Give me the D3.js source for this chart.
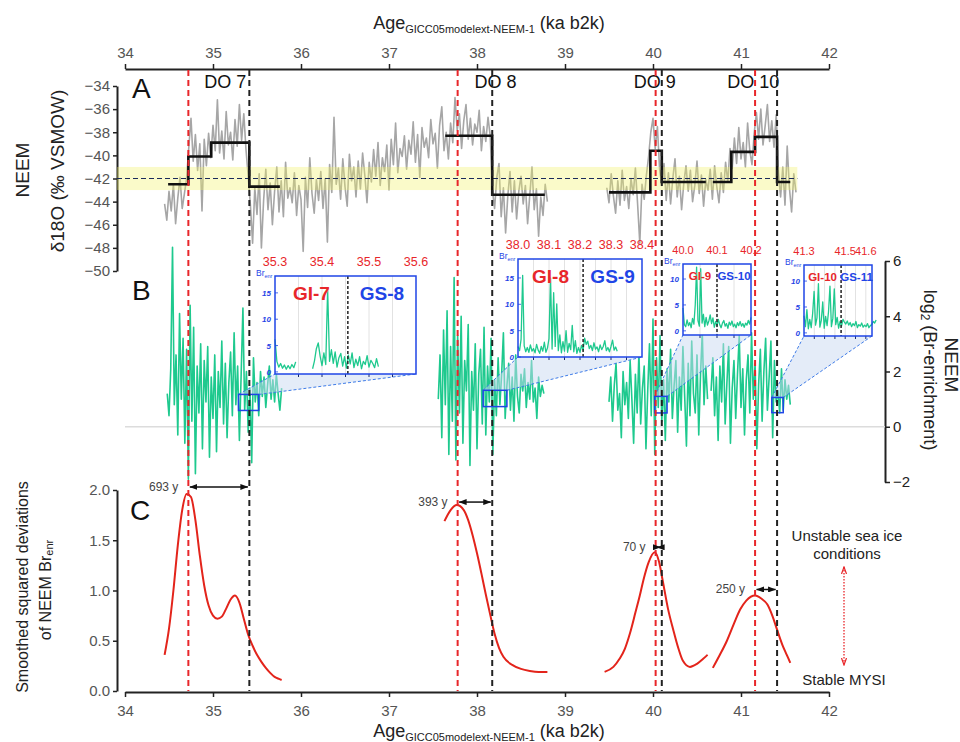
<!DOCTYPE html>
<html>
<head>
<meta charset="utf-8">
<script src="https://cdn.jsdelivr.net/npm/d3@7"></script>
<style>
body { margin: 0; background: #fff; }
svg text { font-family: "Liberation Sans", "Helvetica Neue", Arial, sans-serif; }
</style>
</head>
<body>
<div id="chart"></div>
<script>

// ---- data ----
var ageTicks = [34, 35, 36, 37, 38, 39, 40, 41, 42];
var d18oTicks = [-34, -36, -38, -40, -42, -44, -46, -48, -50];
var brTicks = [-2, 0, 2, 4, 6];
var sdTicks = [0, 0.5, 1, 1.5, 2];

var doNames = ["DO 7", "DO 8", "DO 9", "DO 10"];
var doLabelAge = [35.14, 38.21, 40.02, 41.14];
var giOnset = [34.72, 37.78, 40.03, 41.16];      // red dashed
var gsOnset = [35.413, 38.173, 40.10, 41.41];    // black dashed
var lagNames = ["693 y", "393 y", "70 y", "250 y"];
var lagLevel = [2.03, 1.88, 1.43, 1.01];

// stadial reference band
var bandRange = [-43, -41];
var bandMid = -42;
var bandEnd = 41.64;

// step means of d18O
var meanBreaks = [[34.49, 34.72, 34.98, 35.413, 35.76], [37.64, 38.173, 38.77], [39.5, 39.97, 40.10, 40.6], [40.68, 40.89, 41.16, 41.41, 41.56]];
var meanLevels = [[-42.5, -40.1, -38.9, -42.7], [-38.3, -43.4], [-43.2, -39.6, -42.3], [-42.3, -39.7, -38.4, -42.3]];

// d18O record
var d18oStep = 0.025;
var d18oStart1 = 34.45;
var d18oSeg1 = [
 -44.2,-45.6,-43.1,-44.8,-42.5,-45.9,-43.7,-41.9,-44.6,-43.3,
 -42.0,-39.3,-36.8,-40.5,-38.2,-41.3,-39.0,-44.8,-38.6,-40.9,
 -38.1,-40.2,-37.4,-39.6,-35.2,-39.8,-37.9,-40.3,-36.2,-39.1,
 -38.0,-40.4,-36.9,-39.2,-35.6,-38.7,-36.4,-39.5,-41.8,-44.3,
 -47.6,-42.8,-45.1,-41.6,-48.0,-43.9,-41.2,-44.7,-42.4,-46.0,
 -43.1,-41.0,-44.9,-42.2,-45.3,-40.6,-43.7,-42.8,-44.1,-41.5,
 -45.2,-42.6,-43.8,-48.3,-41.9,-44.5,-40.2,-43.3,-45.0,-42.1,
 -43.9,-41.4,-44.6,-42.0,-47.5,-40.8,-43.2,-36.7,-42.5,-41.1,
 -43.8,-40.3,-42.7,-44.4,-39.9,-42.2,-41.0,-43.6,-40.5,-42.9,
 -39.8,-41.7,-44.1,-40.6,-42.3,-39.5,-41.8,-38.9,-42.6,-40.2,
 -41.4,-39.1,-43.0,-38.6,-40.8,-37.2,-41.5,-39.4,-40.1,-38.3,
 -41.2,-38.7,-39.9,-37.1,-40.6,-38.2,-41.9,-37.6,-39.3,-38.5,
 -40.2,-36.9,-39.0,-38.1,-41.1,-37.4,-35.8,-39.6,-38.0,-40.3,
 -37.2,-38.9,-35.0,-37.8,-36.4,-39.4,-37.0,-35.6,-38.6,-36.8,
 -39.1,-37.3,-38.0,-36.1,-39.6,-37.5,-38.8,-36.7,-38.3,-43.0,
 -44.6,-41.9,-40.7,-45.3,-42.8,-46.7,-43.5,-41.4,-44.9,-42.2,
 -45.5,-43.1,-41.8,-44.2,-42.6,-45.9,-43.4,-41.0,-44.7,-42.9,
 -47.0,-43.6,-45.2,-42.5,-44.0];
var d18oStart2 = 39.475;
var d18oSeg2 = [
 -42.8,-44.1,-41.6,-43.5,-45.0,-42.2,-44.3,-41.3,-43.9,-42.7,
 -44.6,-42.0,-43.4,-41.1,-44.2,-47.6,-42.5,-43.8,-41.7,-40.1,
 -38.0,-36.8,-39.4,-37.5,-41.2,-42.6,-40.7,-43.9,-41.5,-44.2,
 -42.0,-40.3,-43.6,-41.8,-44.7,-42.4,-40.9,-43.1,-41.3,-44.0,
 -42.6,-40.5,-43.3,-41.7,-44.4,-42.1,-43.0,-41.2,-43.8,-40.9,
 -42.7,-44.1,-41.5,-43.2,-40.6,-42.3,-39.4,-41.1,-38.5,-40.7,
 -37.6,-40.3,-38.9,-41.0,-37.2,-39.6,-40.8,-38.1,-36.3,-38.6,
 -36.0,-39.1,-37.4,-35.6,-38.8,-37.0,-39.3,-36.5,-41.4,-43.6,
 -41.0,-44.3,-39.2,-42.8,-44.9,-41.6,-43.2];

// log2 Br enrichment
var brStep = 0.02;
var brStart = [34.48, 37.56, 39.50, 40.66];
var brSeg1 = [
 1.2,0.4,2.1,6.5,0.8,2.6,-0.3,4.1,1.0,3.2,
 -0.6,2.8,-1.9,4.4,0.2,3.6,-1.7,2.2,0.5,3.0,
 -0.8,2.4,0.9,2.9,-1.1,1.8,0.3,2.6,-0.9,2.0,
 0.7,3.1,0.1,2.3,-0.4,1.6,2.7,0.4,3.4,0.8,
 2.2,-0.5,1.9,4.3,0.6,2.0,-0.2,1.4,-1.3,2.5,
 0.9,1.6,0.4,2.0,1.1,1.8,0.7,1.5,2.2,1.0,
 1.7,0.9,1.9,1.2,0.6,1.4];
var brSeg2 = [
 1.0,2.6,-0.4,3.5,0.8,4.2,-1.0,2.9,0.2,5.4,
 -1.2,3.3,0.5,4.0,-0.6,2.4,1.3,3.7,-1.4,2.0,
 0.6,3.0,-0.8,1.9,2.8,0.1,3.6,-0.3,2.2,0.9,
 3.2,-1.0,1.7,0.4,2.5,0.8,1.9,3.4,0.3,1.5,
 2.3,0.6,1.8,0.2,2.6,1.1,0.5,1.9,1.3,2.1,
 0.7,1.6,1.0,2.4,0.9,1.4,0.3,1.8,1.1,1.5,
 1.2];
var brSeg3 = [
 0.9,1.8,0.2,1.5,2.3,0.6,1.2,-0.4,2.0,0.8,
 1.6,0.3,2.4,1.0,-0.6,1.9,0.5,2.7,0.1,1.4,
 2.2,-0.8,1.3,3.0,0.4,3.9,-1.0,2.5,0.7,3.3,
 0.2,1.7,-0.5,2.1,0.9,2.8,0.3,1.5,2.4,-0.2,
 1.8,0.6,2.9,1.1,-0.7,2.3,0.4,3.1,1.2,0.5,
 2.6,-0.3,1.9,3.4,0.8,2.2,1.0];
var brSeg4 = [
 1.3,2.5,0.4,1.8,-0.5,2.2,0.9,3.0,0.1,1.6,
 2.9,-0.6,1.4,2.4,0.3,1.9,3.3,0.7,2.1,-0.3,
 1.7,2.6,0.5,3.4,1.0,2.3,-0.8,1.5,2.8,0.2,
 2.0,3.2,0.6,1.8,3.1,-0.4,2.4,0.9,1.3,0.5,
 2.1,0.6,1.7,1.0,1.5,0.8];

// smoothed squared deviations (panel C)
var sdAge7 = [34.45,34.5,34.55,34.6,34.65,34.7,34.75,34.8,34.85,34.9,34.95,35.0,35.05,35.1,35.15,35.2,35.25,35.3,35.35,35.4,35.45,35.5,35.55,35.6,35.65,35.7,35.75,35.78];
var sdVal7 = [0.36,0.62,1.0,1.45,1.80,1.96,1.93,1.70,1.35,1.05,0.85,0.75,0.72,0.74,0.82,0.91,0.95,0.88,0.72,0.56,0.45,0.36,0.29,0.23,0.18,0.14,0.12,0.11];
var sdAge8 = [37.63,37.7,37.77,37.85,37.9,37.95,38.0,38.05,38.1,38.15,38.2,38.25,38.3,38.4,38.5,38.6,38.7,38.8];
var sdVal8 = [1.69,1.80,1.85,1.80,1.70,1.55,1.37,1.17,0.96,0.76,0.57,0.43,0.34,0.26,0.22,0.20,0.19,0.19];
var sdAge9 = [39.45,39.55,39.62,39.68,39.74,39.8,39.85,39.89,39.95,40.02,40.07,40.11,40.17,40.23,40.29,40.34,40.42,40.5,40.57,40.62];
var sdVal9 = [0.19,0.24,0.32,0.42,0.58,0.78,0.95,1.10,1.28,1.38,1.28,1.10,0.82,0.61,0.42,0.30,0.24,0.27,0.32,0.36];
var sdAge10 = [40.68,40.76,40.84,40.92,40.99,41.06,41.16,41.23,41.3,41.36,41.41,41.47,41.52,41.56];
var sdVal10 = [0.23,0.36,0.50,0.67,0.81,0.90,0.95,0.92,0.86,0.74,0.61,0.46,0.36,0.28];

// insets: raw Br enrichment around the transitions
var insetStart = [35.30, 38.00, 40.00, 41.30];
var insetStep = [0.004, 0.005, 0.004, 0.007];
var inset1 = [6.2,2.0,0.9,1.6,0.7,1.3,0.5,1.2,0.6,1.4,0.8,1.9,
 null,null,null,null,null,null,null,null,
 0.6,2.1,4.4,5.5,3.0,1.2,3.6,1.4,15.8,2.0,
 4.2,1.6,3.8,0.9,2.7,3.5,1.1,2.9,0.7,3.2,
 1.5,3.6,0.8,2.4,1.2,2.9,0.6,2.0,1.4,3.1,
 0.9,2.2,1.6,0.8,2.5,1.0];
var inset2 = [
 2.0,1.2,3.4,15.5,2.1,1.0,1.8,0.9,2.3,1.1,
 1.6,0.8,2.4,1.3,0.7,2.0,1.1,2.8,0.9,1.7,
 3.5,15.0,1.5,12.2,2.0,10.1,1.2,4.2,0.8,2.9,
 1.1,5.0,0.9,2.6,1.4,6.0,1.0,3.1,0.7,1.8,
 0.9,2.2,1.3,3.6,2.4,3.0,1.6,2.2,1.2,2.7,
 1.5,1.9,1.0,2.3,1.4,2.0,3.1,1.2,1.8,1.0,
 2.0,3.2,1.3,1.9,1.1];
var inset3 = [
 4.4,1.2,0.8,2.1,1.0,1.6,0.6,2.4,1.3,5.0,
 12.3,2.0,0.9,12.0,1.5,3.2,0.8,2.6,1.1,1.9,
 3.1,1.4,2.5,0.7,1.8,1.0,2.2,1.2,0.6,1.5,
 2.0,0.9,1.4,0.5,1.7,1.1,1.9,0.8,1.3,0.6,
 1.6,1.0,1.8,0.9,1.4,0.7,1.5,1.1,2.0,1.3,
 2.6];
var inset4 = [
 3.3,1.2,4.5,0.8,2.6,1.0,3.8,8.0,1.5,2.9,
 9.5,1.1,2.4,6.0,0.9,3.2,1.4,4.1,9.0,1.2,
 2.8,8.5,1.6,3.0,0.9,2.2,1.3,2.6,2.1,1.7,
 2.3,1.5,2.0,1.2,1.8,1.4,2.2,1.0,1.6,1.3,
 1.9,1.1,1.5,1.2,1.8,1.0,1.4,1.6,2.2,1.9,2.5];
var insetValues = [inset1, inset2, inset3, inset4];
var insetAgeDomain = [[35.3, 35.6], [38.0, 38.4], [40.0, 40.2], [41.3, 41.63]];
var insetBrDomain = [[-0.4, 18.2], [0, 18.6], [-0.8, 12.9], [-0.6, 13.1]];
var insetTopTicks = [[35.3, 35.4, 35.5, 35.6], [38.0, 38.1, 38.2, 38.3, 38.4], [40.0, 40.1, 40.2], [41.3, 41.5, 41.6]];
var insetBrTicks = [[0, 5, 10, 15], [0, 5, 10, 15], [0, 5, 10], [0, 5, 10]];
var insetSplit = [35.455, 38.21, 40.10, 41.48];
var insetGI = ["GI-7", "GI-8", "GI-9", "GI-10"];
var insetGS = ["GS-8", "GS-9", "GS-10", "GS-11"];
// zoom windows drawn on the main Br record
var zoomAge = [[35.29, 35.52], [38.07, 38.34], [40.02, 40.16], [41.35, 41.48]];
var zoomBr = [[0.59, 1.17], [0.73, 1.32], [0.5, 1.1], [0.51, 1.06]];

// ---- layout ----
var insetBox = [
    { left: 275, top: 276, width: 141, height: 98, big: true },
    { left: 518, top: 259, width: 124, height: 98, big: true },
    { left: 683, top: 264, width: 68, height: 71, big: false },
    { left: 804, top: 265, width: 68, height: 71, big: false }
];

var RED = "#e8262a", BLUE = "#1f45e6", GREEN = "#1ec98e", GREY_TXT = "#555";

var x = d3.scaleLinear().domain([34, 42]).range([125, 829]);
var yA = d3.scaleLinear().domain([-50, -34]).range([271, 86]);
var yB = d3.scaleLinear().domain([-2, 6]).range([482, 261]);
var yC = d3.scaleLinear().domain([0, 2]).range([691, 490]);

var svg = d3.select("#chart").append("svg").attr("width", 960).attr("height", 742);

var defs = svg.append("defs");
defs.append("marker").attr("id", "headBlack")
    .attr("viewBox", "0 0 8 6").attr("refX", 7.5).attr("refY", 3)
    .attr("markerWidth", 8).attr("markerHeight", 6).attr("markerUnits", "userSpaceOnUse")
    .attr("orient", "auto-start-reverse")
    .append("path").attr("d", "M0,0 L8,3 L0,6 Z").attr("fill", "#111");
defs.append("marker").attr("id", "headRed")
    .attr("viewBox", "0 0 8 6").attr("refX", 7).attr("refY", 3)
    .attr("markerWidth", 8).attr("markerHeight", 6).attr("markerUnits", "userSpaceOnUse")
    .attr("orient", "auto-start-reverse")
    .append("path").attr("d", "M0,0.5 L7,3 L0,5.5").attr("fill", "none").attr("stroke", RED).attr("stroke-width", 1.2);

function seriesPoints(start, step, values) {
    return values.map(function (v, i) { return [start + i * step, v]; });
}

function styleAxis(g, color, size) {
    g.attr("font-family", null).attr("font-size", null);
    g.select(".domain").attr("stroke", "#222").attr("stroke-width", 2);
    g.selectAll(".tick line").attr("stroke", "#222").attr("stroke-width", 1.5);
    g.selectAll(".tick text").attr("fill", color).style("font-size", size + "px");
}

// ---- age axes ----
var topAxis = svg.append("g").attr("transform", "translate(0,69)")
    .call(d3.axisTop(x).tickValues(ageTicks).tickFormat(d3.format("d")).tickSize(5).tickSizeOuter(0).tickPadding(6));
styleAxis(topAxis, GREY_TXT, 15);
var bottomAxis = svg.append("g").attr("transform", "translate(0,692)")
    .call(d3.axisBottom(x).tickValues(ageTicks).tickFormat(d3.format("d")).tickSize(5).tickSizeOuter(0).tickPadding(8));
styleAxis(bottomAxis, GREY_TXT, 15);

function ageTitle(y) {
    var t = svg.append("text").attr("x", 489).attr("y", y).attr("text-anchor", "middle")
        .style("font-size", "18px").attr("fill", "#222");
    t.append("tspan").text("Age");
    t.append("tspan").attr("dy", 4).style("font-size", "11px").text("GICC05modelext-NEEM-1");
    t.append("tspan").attr("dy", -4).text(" (ka b2k)");
}
ageTitle(29);
ageTitle(737);

// ---- panel A ----
var axisA = svg.append("g").attr("transform", "translate(117,0)")
    .call(d3.axisLeft(yA).tickValues(d18oTicks).tickSize(4).tickSizeOuter(0).tickPadding(3));
styleAxis(axisA, GREY_TXT, 15);

svg.append("text").attr("transform", "translate(22,170) rotate(-90)").attr("text-anchor", "middle")
    .attr("dominant-baseline", "central").style("font-size", "19px").attr("fill", "#222").text("NEEM");
svg.append("text").attr("transform", "translate(57,171) rotate(-90)").attr("text-anchor", "middle")
    .attr("dominant-baseline", "central").style("font-size", "19px").attr("fill", "#222").text("δ18O (‰ VSMOW)");

var lineA = d3.line().x(function (d) { return x(d[0]); }).y(function (d) { return yA(d[1]); });
[seriesPoints(d18oStart1, d18oStep, d18oSeg1), seriesPoints(d18oStart2, d18oStep, d18oSeg2)].forEach(function (pts) {
    svg.append("path").attr("d", lineA(pts)).attr("fill", "none")
        .attr("stroke", "#a6a6a6").attr("stroke-width", 1.6).attr("stroke-linejoin", "round");
});

// stadial band and its mean
svg.append("rect").attr("x", 117).attr("width", x(bandEnd) - 117)
    .attr("y", yA(bandRange[1])).attr("height", yA(bandRange[0]) - yA(bandRange[1]))
    .attr("fill", "rgb(240,240,100)").attr("fill-opacity", 0.35);
svg.append("line").attr("x1", 117).attr("x2", x(bandEnd)).attr("y1", yA(bandMid)).attr("y2", yA(bandMid))
    .attr("stroke", "#1b2a5a").attr("stroke-width", 1.2).attr("stroke-dasharray", "5,3");

// step means
var stepLine = d3.line().curve(d3.curveStepAfter)
    .x(function (d) { return x(d[0]); }).y(function (d) { return yA(d[1]); });
meanBreaks.forEach(function (br, k) {
    var pts = meanLevels[k].map(function (v, i) { return [br[i], v]; });
    pts.push([br[br.length - 1], meanLevels[k][meanLevels[k].length - 1]]);
    svg.append("path").attr("d", stepLine(pts)).attr("fill", "none")
        .attr("stroke", "#111").attr("stroke-width", 2.6);
});

svg.append("text").attr("x", 132).attr("y", 98).style("font-size", "28px").attr("fill", "#111").text("A");
doNames.forEach(function (n, i) {
    svg.append("text").attr("x", x(doLabelAge[i])).attr("y", 88).attr("text-anchor", "middle")
        .style("font-size", "18px").attr("fill", "#111").text(n);
});

// ---- panel B ----
var axisB = svg.append("g").attr("transform", "translate(885,0)")
    .call(d3.axisRight(yB).tickValues(brTicks).tickSize(5).tickSizeOuter(0).tickPadding(3));
styleAxis(axisB, "#222", 15);

svg.append("text").attr("transform", "translate(951,365) rotate(90)").attr("text-anchor", "middle")
    .attr("dominant-baseline", "central").style("font-size", "19px").attr("fill", "#222").text("NEEM");
var logT = svg.append("text").attr("transform", "translate(930,370) rotate(90)").attr("text-anchor", "middle")
    .attr("dominant-baseline", "central").style("font-size", "18px").attr("fill", "#222");
logT.append("tspan").text("log");
logT.append("tspan").attr("dy", 5).style("font-size", "12px").text("2");
logT.append("tspan").attr("dy", -5).text(" (Br-enrichment)");

svg.append("line").attr("x1", x(34)).attr("x2", 885).attr("y1", yB(0)).attr("y2", yB(0))
    .attr("stroke", "#dcdcdc").attr("stroke-width", 1.5);

var lineB = d3.line().x(function (d) { return x(d[0]); }).y(function (d) { return yB(d[1]); });
[brSeg1, brSeg2, brSeg3, brSeg4].forEach(function (seg, k) {
    svg.append("path").attr("d", lineB(seriesPoints(brStart[k], brStep, seg))).attr("fill", "none")
        .attr("stroke", GREEN).attr("stroke-width", 1.6).attr("stroke-linejoin", "round");
});

svg.append("text").attr("x", 132).attr("y", 300).style("font-size", "28px").attr("fill", "#111").text("B");

// insets with their connectors
insetBox.forEach(function (box, k) {
    var bx0 = x(zoomAge[k][0]), bx1 = x(zoomAge[k][1]);
    var by0 = yB(zoomBr[k][1]), by1 = yB(zoomBr[k][0]);
    var bottom = box.top + box.height, right = box.left + box.width;

    svg.append("polygon")
        .attr("points", [[bx0, by0], [box.left, bottom], [right, bottom], [bx1, by0]].join(" "))
        .attr("fill", "#c9d9f2").attr("fill-opacity", 0.5);
    svg.append("line").attr("x1", bx0).attr("y1", by0).attr("x2", box.left).attr("y2", bottom)
        .attr("stroke", "#3f7ce8").attr("stroke-width", 1).attr("stroke-dasharray", "3,2");
    svg.append("line").attr("x1", bx1).attr("y1", by0).attr("x2", right).attr("y2", bottom)
        .attr("stroke", "#3f7ce8").attr("stroke-width", 1).attr("stroke-dasharray", "3,2");
    svg.append("rect").attr("x", bx0).attr("y", by0).attr("width", bx1 - bx0).attr("height", by1 - by0)
        .attr("fill", "none").attr("stroke", BLUE).attr("stroke-width", 1.5);

    var ix = d3.scaleLinear().domain(insetAgeDomain[k]).range([box.left, right]);
    var iy = d3.scaleLinear().domain(insetBrDomain[k]).range([bottom, box.top]);
    var g = svg.append("g");

    g.append("rect").attr("x", box.left).attr("y", box.top).attr("width", box.width).attr("height", box.height)
        .attr("fill", "#fff");

    // light grid every 0.05 ka
    var grid = d3.range(Math.ceil(insetAgeDomain[k][0] * 20 + 1e-6), Math.floor(insetAgeDomain[k][1] * 20 - 1e-6) + 1)
        .map(function (v) { return v / 20; })
        .filter(function (v) { return v > insetAgeDomain[k][0] + 1e-6 && v < insetAgeDomain[k][1] - 1e-6; });
    grid.forEach(function (v) {
        g.append("line").attr("x1", ix(v)).attr("x2", ix(v)).attr("y1", box.top).attr("y2", bottom)
            .attr("stroke", "#e2e2e2").attr("stroke-width", 1);
        g.append("line").attr("x1", ix(v)).attr("x2", ix(v)).attr("y1", bottom).attr("y2", bottom + 3)
            .attr("stroke", "#1a2a6a").attr("stroke-width", 1);
    });

    var lineI = d3.line().defined(function (d) { return d[1] !== null; })
        .x(function (d) { return ix(d[0]); }).y(function (d) { return iy(d[1]); });
    g.append("path").attr("d", lineI(seriesPoints(insetStart[k], insetStep[k], insetValues[k])))
        .attr("fill", "none").attr("stroke", GREEN).attr("stroke-width", 1.3).attr("stroke-linejoin", "round");

    g.append("line").attr("x1", ix(insetSplit[k])).attr("x2", ix(insetSplit[k]))
        .attr("y1", box.top).attr("y2", bottom)
        .attr("stroke", "#222").attr("stroke-width", 1.5).attr("stroke-dasharray", "3,2");

    g.append("rect").attr("x", box.left).attr("y", box.top).attr("width", box.width).attr("height", box.height)
        .attr("fill", "none").attr("stroke", BLUE).attr("stroke-width", 1.5);

    // GI / GS names
    var fs = box.big ? 19 : 11.5;
    var base = box.top + (box.big ? 24 : 16);
    g.append("text").attr("x", (box.left + ix(insetSplit[k])) / 2).attr("y", base).attr("text-anchor", "middle")
        .style("font-size", fs + "px").style("font-weight", "bold").attr("fill", RED).text(insetGI[k]);
    g.append("text").attr("x", (ix(insetSplit[k]) + right) / 2).attr("y", base).attr("text-anchor", "middle")
        .style("font-size", fs + "px").style("font-weight", "bold").attr("fill", BLUE).text(insetGS[k]);

    // age labels above
    insetTopTicks[k].forEach(function (v) {
        g.append("text").attr("x", ix(v)).attr("y", box.top - 10).attr("text-anchor", "middle")
            .style("font-size", (box.big ? 12.5 : 11) + "px").attr("fill", RED).text(v.toFixed(1));
    });

    // Br ticks on the left
    insetBrTicks[k].forEach(function (v) {
        g.append("line").attr("x1", box.left).attr("x2", box.left + 3).attr("y1", iy(v)).attr("y2", iy(v))
            .attr("stroke", BLUE).attr("stroke-width", 0.8);
        g.append("text").attr("x", box.left - 4).attr("y", iy(v) + 3).attr("text-anchor", "end")
            .style("font-size", "8px").style("font-style", "italic").style("font-weight", "bold")
            .attr("fill", BLUE).text(v);
    });
    var brLab = g.append("text").attr("x", box.left - 19).attr("y", box.top)
        .style("font-size", "8.5px").attr("fill", BLUE);
    brLab.append("tspan").text("Br");
    brLab.append("tspan").attr("dy", 1.5).style("font-size", "5.5px").text("enr");
});

// ---- panel C ----
var axisC = svg.append("g").attr("transform", "translate(117,0)")
    .call(d3.axisLeft(yC).tickValues(sdTicks).tickFormat(d3.format(".1f")).tickSize(4).tickSizeOuter(0).tickPadding(3));
styleAxis(axisC, GREY_TXT, 15);

svg.append("text").attr("transform", "translate(22,587) rotate(-90)").attr("text-anchor", "middle")
    .attr("dominant-baseline", "central").style("font-size", "16px").attr("fill", "#222")
    .text("Smoothed squared deviations");
var cTitle2 = svg.append("text").attr("transform", "translate(45,590) rotate(-90)").attr("text-anchor", "middle")
    .attr("dominant-baseline", "central").style("font-size", "16px").attr("fill", "#222");
cTitle2.append("tspan").text("of NEEM Br");
cTitle2.append("tspan").attr("dy", 4).style("font-size", "11px").text("enr");

var lineC = d3.line().curve(d3.curveMonotoneX)
    .x(function (d) { return x(d[0]); }).y(function (d) { return yC(d[1]); });
[[sdAge7, sdVal7], [sdAge8, sdVal8], [sdAge9, sdVal9], [sdAge10, sdVal10]].forEach(function (s) {
    var pts = s[0].map(function (a, i) { return [a, s[1][i]]; });
    svg.append("path").attr("d", lineC(pts)).attr("fill", "none")
        .attr("stroke", "#e3241b").attr("stroke-width", 2);
});

svg.append("text").attr("x", 130).attr("y", 520).style("font-size", "28px").attr("fill", "#111").text("C");

// transition markers across all panels
giOnset.forEach(function (a) {
    svg.append("line").attr("x1", x(a)).attr("x2", x(a)).attr("y1", 70).attr("y2", 691)
        .attr("stroke", RED).attr("stroke-width", 2).attr("stroke-dasharray", "6,4");
});
gsOnset.forEach(function (a) {
    svg.append("line").attr("x1", x(a)).attr("x2", x(a)).attr("y1", 70).attr("y2", 691)
        .attr("stroke", "#222").attr("stroke-width", 2).attr("stroke-dasharray", "6,4");
});

// lag arrows
lagNames.forEach(function (n, i) {
    var yy = yC(lagLevel[i]);
    svg.append("line").attr("x1", x(giOnset[i]) + 1.5).attr("x2", x(gsOnset[i]) - 1.5)
        .attr("y1", yy).attr("y2", yy).attr("stroke", "#111").attr("stroke-width", 1.5)
        .attr("marker-start", "url(#headBlack)").attr("marker-end", "url(#headBlack)");
    svg.append("text").attr("x", x(giOnset[i]) - 10).attr("y", yy + 4).attr("text-anchor", "end")
        .style("font-size", "12px").attr("fill", "#444").text(n);
});

// sea ice annotation
svg.append("text").attr("x", 847).attr("y", 541).attr("text-anchor", "middle")
    .style("font-size", "15px").attr("fill", "#222").text("Unstable sea ice");
svg.append("text").attr("x", 847).attr("y", 559).attr("text-anchor", "middle")
    .style("font-size", "15px").attr("fill", "#222").text("conditions");
svg.append("text").attr("x", 844).attr("y", 685).attr("text-anchor", "middle")
    .style("font-size", "15px").attr("fill", "#222").text("Stable MYSI");
svg.append("line").attr("x1", 844).attr("x2", 844).attr("y1", 567).attr("y2", 665)
    .attr("stroke", RED).attr("stroke-width", 1.3).attr("stroke-dasharray", "1.5,1.5")
    .attr("marker-start", "url(#headRed)").attr("marker-end", "url(#headRed)");

</script>
</body>
</html>
